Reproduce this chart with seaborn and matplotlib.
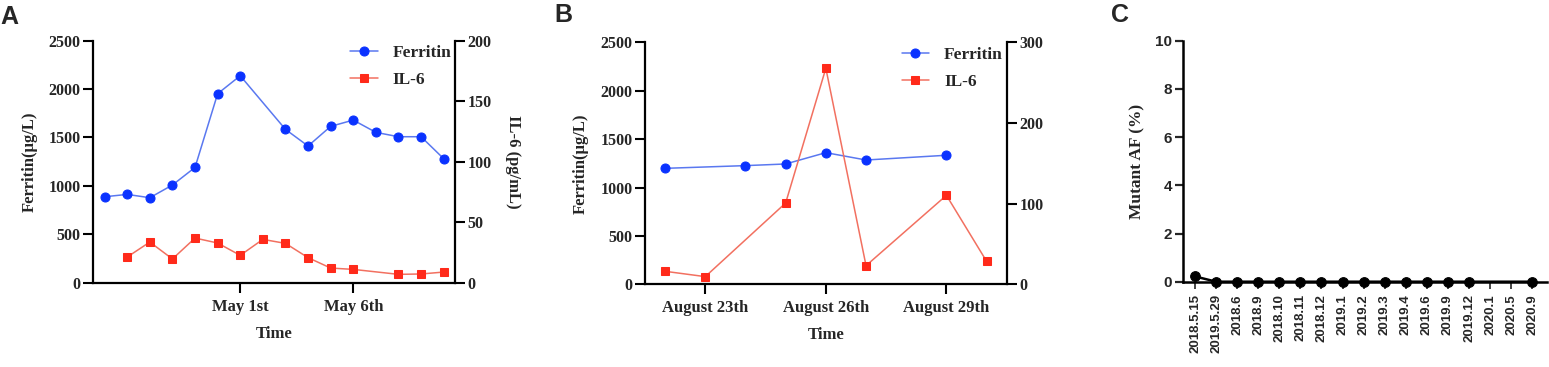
import numpy as np
import pandas as pd
import matplotlib
matplotlib.use("Agg")
import matplotlib.pyplot as plt
import seaborn as sns

# ---------------- data ----------------
# Panel A: days relative to May 1st
a_ferritin_day = [-6, -5, -4, -3, -2, -1, 0, 2, 3, 4, 5, 6, 7, 8, 9]
a_ferritin = [888, 912, 878, 1009, 1191, 1952, 2138, 1584, 1412, 1615, 1680, 1553, 1508, 1508, 1281]
a_il6_day = [-5, -4, -3, -2, -1, 0, 1, 2, 3, 4, 5, 7, 8, 9]
a_il6 = [21.2, 33.6, 19.6, 36.9, 32.8, 22.6, 35.8, 32.5, 20.7, 12.1, 11.0, 6.9, 7.2, 8.8]
a_tick_days = [0, 5]
a_tick_labels = ["May 1st", "May 6th"]

# Panel B: days relative to August 23th
b_ferritin_day = [-1, 1, 2, 3, 4, 6]
b_ferritin = [1198, 1226, 1243, 1360, 1284, 1333]
b_il6_day = [-1, 0, 2, 3, 4, 6, 7]
b_il6 = [16.1, 9.5, 100.8, 267.8, 23.1, 110.3, 28.5]
b_tick_days = [0, 3, 6]
b_tick_labels = ["August 23th", "August 26th", "August 29th"]

# Panel C
c_dates = ["2018.5.15", "2019.5.29", "2018.6", "2018.9", "2018.10", "2018.11", "2018.12",
           "2019.1", "2019.2", "2019.3", "2019.4", "2019.6", "2019.9", "2019.12",
           "2020.1", "2020.5", "2020.9"]
c_af = [0.22, 0, 0, 0, 0, 0, 0, 0, 0, 0, 0, 0, 0, 0, np.nan, np.nan, 0]

# ---------------- style ----------------
sns.set_theme(style="ticks")
plt.rcParams["font.family"] = ["Liberation Serif", "DejaVu Serif"]
plt.rcParams["font.weight"] = "bold"
plt.rcParams["axes.labelweight"] = "bold"

BLUE_M = "#0a32ff"
BLUE_L = "#5a78f0"
RED_M = "#ff2a1a"
RED_L = "#f27060"
FS = 12          # labels, legend, x tick labels
FS_Y = 11.5      # y tick labels

fig = plt.figure(figsize=(15.49, 3.67), dpi=100)


def style_axis(ax):
    for s in ax.spines.values():
        s.set_linewidth(1.6)
        s.set_color("black")
    ax.tick_params(axis="both", direction="out", length=7, width=1.5, color="black",
                   labelsize=FS_Y, pad=2)
    for lab in ax.get_xticklabels() + ax.get_yticklabels():
        lab.set_fontweight("bold")


def dual_panel(rect, fday, fval, iday, ival, tdays, tlabels, xlim, il6_max, il6_step,
               right_label, letter, letter_xy):
    ax = fig.add_axes(rect)
    ax2 = ax.twinx()
    sns.lineplot(x=fday, y=fval, ax=ax, color=BLUE_L, lw=1.1, marker="o", markersize=6.5,
                 mfc=BLUE_M, mec=BLUE_M, label="Ferritin", legend=False, zorder=3)
    sns.lineplot(x=iday, y=ival, ax=ax2, color=RED_L, lw=1.1, marker="s", markersize=6.2,
                 mfc=RED_M, mec=RED_M, label="IL-6", legend=False, zorder=3)
    ax.set_xlim(*xlim)
    ax.set_ylim(0, 2500)
    ax.set_yticks(np.arange(0, 2501, 500))
    ax2.set_ylim(0, il6_max)
    ax2.set_yticks(np.arange(0, il6_max + 1, il6_step))
    ax.set_xticks(tdays)
    ax.set_xticklabels(tlabels)
    for a in (ax, ax2):
        a.grid(False)
        a.spines["top"].set_visible(False)
        style_axis(a)
    ax.spines["right"].set_visible(False)
    ax2.spines["left"].set_visible(False)
    ax2.spines["bottom"].set_visible(False)
    ax.tick_params(axis="x", length=7.5, pad=4, labelsize=FS)
    ax.set_xlabel("Time", fontsize=FS, fontweight="bold", labelpad=8)
    ax.set_ylabel("Ferritin(μg/L)", fontsize=FS, fontweight="bold", labelpad=8)
    if right_label:
        ax2.set_ylabel(right_label, fontsize=FS, fontweight="bold", rotation=270, labelpad=21)
    else:
        ax2.set_ylabel("")
    h1, l1 = ax.get_legend_handles_labels()
    h2, l2 = ax2.get_legend_handles_labels()
    leg = ax2.legend(h1 + h2, l1 + l2, loc="upper left", bbox_to_anchor=(0.69, 1.01),
                     frameon=False, fontsize=FS + 0.5, handlelength=1.6, handletextpad=0.85,
                     labelspacing=0.62, borderaxespad=0)
    for t in leg.get_texts():
        t.set_fontweight("bold")
    fig.text(letter_xy[0], letter_xy[1], letter, fontsize=18, fontweight="bold",
             family="Liberation Sans", ha="left", va="top")
    return ax, ax2


W, H = 1549, 367
def rect(l, r, top, bottom):
    return [l / W, (H - bottom) / H, (r - l) / W, (bottom - top) / H]

dual_panel(rect(93.3, 455, 40.7, 282.7), a_ferritin_day, a_ferritin, a_il6_day, a_il6,
           a_tick_days, a_tick_labels, (-6.5, 9.5), 200, 50, "IL-6 (pg/mL)", "A",
           (0 / W, 1 - 5 / H))
dual_panel(rect(645, 1006.7, 42.3, 284.3), b_ferritin_day, b_ferritin, b_il6_day, b_il6,
           b_tick_days, b_tick_labels, (-1.5, 7.5), 300, 100, None, "B",
           (554 / W, 1 - 3 / H))

# ---------------- Panel C ----------------
axc = fig.add_axes(rect(1183, 1547, 40.7, 281.7))
dfc = pd.DataFrame({"pos": np.arange(len(c_dates)), "af": c_af})
sns.lineplot(data=dfc, x="pos", y="af", ax=axc, color="black", lw=1.8, marker="o",
             markersize=7, mfc="black", mec="black", clip_on=False, zorder=4)
axc.set_xlim(-0.57, 16.7)
axc.set_ylim(0, 10)
axc.set_yticks(np.arange(0, 11, 2))
axc.set_xticks(np.arange(len(c_dates)))
axc.set_xticklabels(c_dates, rotation=90, family="Liberation Sans", fontweight="bold",
                    fontsize=9.5)
axc.spines["top"].set_visible(False)
axc.spines["right"].set_visible(False)
for s in ("left", "bottom"):
    axc.spines[s].set_linewidth(1.8)
    axc.spines[s].set_color("black")
axc.grid(False)
axc.tick_params(axis="y", direction="out", length=6, width=1.6, labelsize=11, pad=2)
axc.tick_params(axis="x", direction="out", length=5, width=1.2, pad=4)
for lab in axc.get_yticklabels():
    lab.set_family("Liberation Sans")
    lab.set_fontweight("bold")
axc.set_xlabel("")
axc.set_ylabel("Mutant AF (%)", fontsize=12.5, fontweight="bold", labelpad=7)
fig.text(1111 / W, 1 - 3 / H, "C", fontsize=18, fontweight="bold",
         family="Liberation Sans", ha="left", va="top")

fig.savefig("out.png", dpi=100)
